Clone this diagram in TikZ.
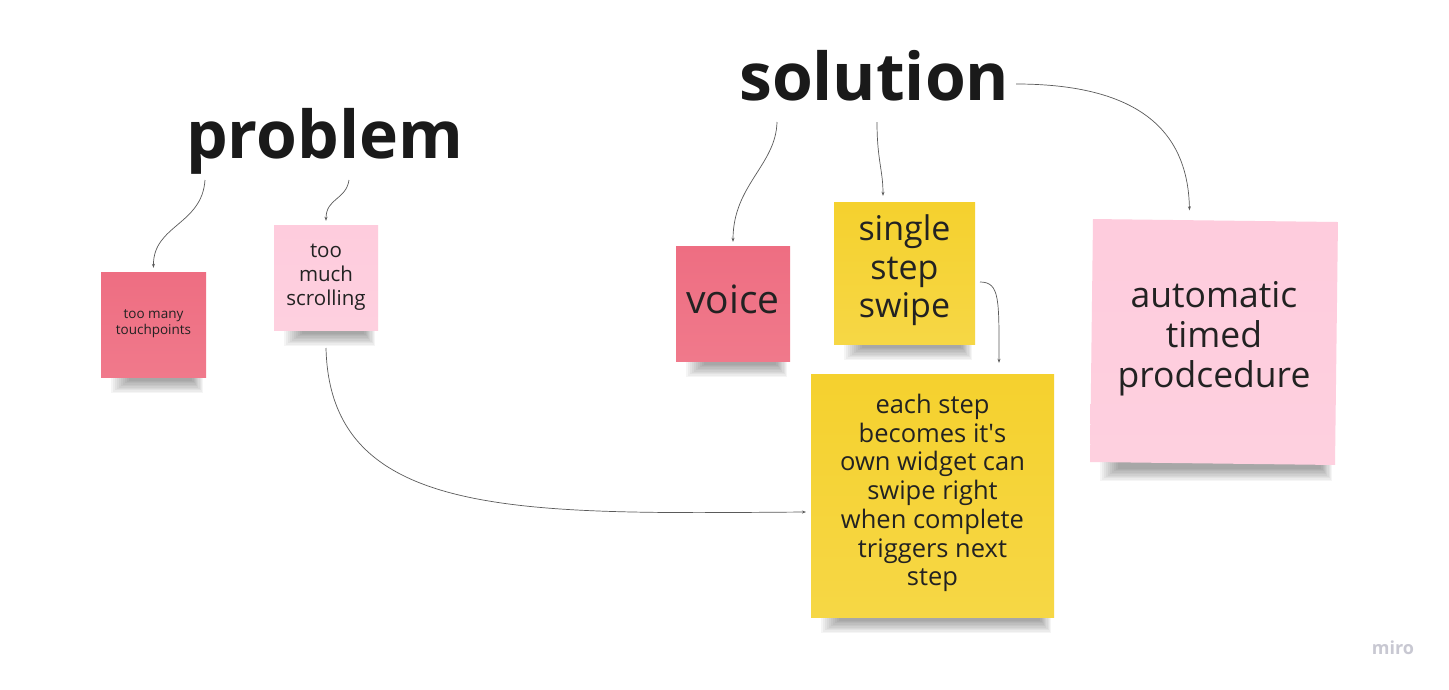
\documentclass[tikz,border=0pt]{standalone}
\usepackage{fontspec}
\setmainfont{Open Sans}
\usetikzlibrary{backgrounds,calc,arrows.meta}
\definecolor{redpink}{HTML}{EE6E82}
\definecolor{redpinkb}{HTML}{F0798B}
\definecolor{lightpink}{HTML}{FECCDD}
\definecolor{lightpinkb}{HTML}{FED0DF}
\definecolor{stickyyellow}{HTML}{F5D12E}
\definecolor{stickyyellowb}{HTML}{F6D745}
\definecolor{notetext}{HTML}{222222}
\definecolor{titlecol}{HTML}{1A1A1A}
\definecolor{conncol}{HTML}{5A5A5A}
\definecolor{logocol}{HTML}{C8C8D2}
\tikzset{
  note/.style={rectangle, inner sep=0pt},
  rednote/.style={note, top color=redpink, bottom color=redpinkb},
  pinknote/.style={note, top color=lightpink, bottom color=lightpinkb},
  yellownote/.style={note, top color=stickyyellow, bottom color=stickyyellowb},
  notetextstyle/.style={align=center, text=notetext, inner sep=0pt},
  conn/.style={draw=conncol, line width=0.7pt, -{Stealth[length=4pt,width=3pt]}},
  titletext/.style={font=\fontsize{66}{70}\selectfont\bfseries, text=titlecol, inner sep=0pt, anchor=base west}
}
\newcommand\notesh[1]{%
  \foreach \k in {0,...,9}{%
    \fill[black, opacity=0.04] ($(#1.south west)+(10+2*\k,-2)$) rectangle ($(#1.south east)+(-3-1.2*\k,16-1.4*\k)$);}}
\begin{document}
\begin{tikzpicture}[x=1pt,y=-1pt]
\begin{scope}[on background layer]
  \fill[white] (0,0) rectangle (1449,689);
\end{scope}
\path[use as bounding box] (0,0) rectangle (1449,689);

% titles
\node[titletext] (problem) at (186,158) {problem};
\node[titletext] (solution) at (739,100) {solution};

% sticky notes
\node[rednote, minimum width=105, minimum height=105,
      label={[notetextstyle, font=\fontsize{13.5}{15.5}\selectfont, yshift=1pt]center:{too many\\touchpoints}}]
      (tp) at (153.5,324.5) {};
\node[pinknote, minimum width=104, minimum height=105,
      label={[notetextstyle, font=\fontsize{20.5}{24}\selectfont, yshift=0pt]center:{too\\much\\scrolling}}]
      (tms) at (326,277.5) {};
\node[rednote, minimum width=114, minimum height=115,
      label={[notetextstyle, font=\fontsize{39}{44}\selectfont, yshift=4pt]center:{voice}}]
      (voice) at (733,303.5) {};
\node[yellownote, minimum width=141, minimum height=142,
      label={[notetextstyle, font=\fontsize{34}{38.5}\selectfont, yshift=2.5pt]center:{single\\step\\swipe}}]
      (single) at (904.5,273) {};
\node[yellownote, minimum width=243, minimum height=243,
      label={[notetextstyle, font=\fontsize{25.5}{28.7}\selectfont, yshift=2.5pt]center:{each step\\becomes it\textquotesingle s\\own widget can\\swipe right\\when complete\\triggers next\\step}}]
      (each) at (932.5,495.5) {};
\node[pinknote, minimum width=245, minimum height=243, rotate=-0.7,
      label={[notetextstyle, font=\fontsize{35.5}{40}\selectfont, yshift=3pt]center:{automatic\\timed\\prodcedure}}]
      (auto) at (1214,342) {};

% shadows
\begin{scope}[on background layer]
  \notesh{tp}\notesh{tms}\notesh{voice}\notesh{single}\notesh{each}\notesh{auto}
\end{scope}

% connector start points
\coordinate (pA) at (205,180);
\coordinate (pB) at (349,180);
\coordinate (sA) at (777,122);
\coordinate (sB) at (877,122);
\coordinate (sC) at (1016,84);
\coordinate (tmsOut) at (326,348);
\coordinate (singleOut) at (980,282);
\coordinate (eachIn) at (806,512);

\draw[conn, shorten >=4pt] (pA) .. controls (202,225) and (153,225) .. (tp.north);
\draw[conn, shorten >=4pt] (pB) .. controls (346,200) and (326,198) .. (tms.north);
\draw[conn] (tmsOut) .. controls (330,520) and (520,514) .. (eachIn);
\draw[conn, shorten >=4pt] (sA) .. controls (776,165) and (733,185) .. (voice.north);
\draw[conn] (sB) .. controls (877,160) and (883,170) .. ($(single.north)+(-21.5,-6)$);
\draw[conn] (sC) .. controls (1150,84) and (1188,140) .. ($(auto.north)+(-26,-10)$);
\draw[conn] (singleOut) .. controls (1000,282) and (999,300) .. ($(each.north)+(66.5,-11)$);

% logo
\node[font=\fontsize{18}{20}\selectfont\bfseries, text=logocol, inner sep=0pt] (logo) at (1393,648) {miro};
\end{tikzpicture}
\end{document}
